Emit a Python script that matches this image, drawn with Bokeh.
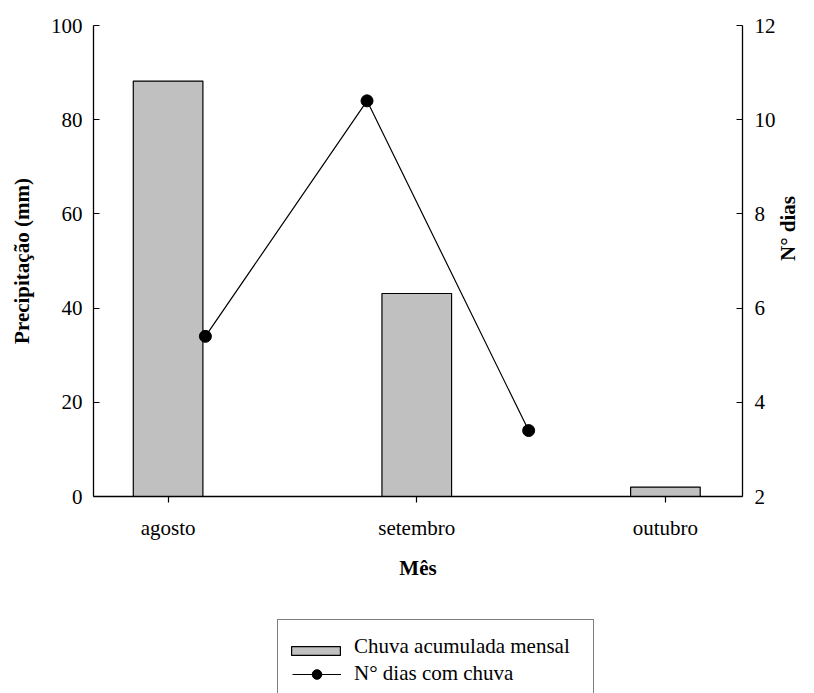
import math
from bokeh.plotting import figure
from bokeh.layouts import column
from bokeh.models import (Range1d, LinearAxis, FixedTicker, Legend, LegendItem,
                          ColumnDataSource)
from bokeh.embed import file_html
from bokeh.resources import INLINE

# monthly rainfall (bars) and number of rainy days (line)
meses = ["agosto", "setembro", "outubro"]
mes_pos = [0, 1, 2]
chuva_mm = [88.2, 43.1, 2.0]
dias_pos = [0.15, 0.80, 1.45]
dias_chuva = [5.4, 10.4, 3.4]
ticks_mm = [0, 20, 40, 60, 80, 100]
ticks_dias = [2, 4, 6, 8, 10, 12]

FONT = "Liberation Serif"
FS = "21px"
BAR_FILL = "#c0c0c0"

bars = ColumnDataSource(dict(x=mes_pos, top=chuva_mm))
dias = ColumnDataSource(dict(x=dias_pos, y=dias_chuva))

p = figure(width=814, height=600,
           x_range=Range1d(-0.30, 2.31), y_range=Range1d(0, 100),
           output_backend="svg", toolbar_location=None,
           min_border_left=93, min_border_right=70,
           min_border_top=25, min_border_bottom=104)
p.outline_line_color = None
p.grid.visible = False
p.background_fill_color = "white"
p.border_fill_color = "white"
p.extra_y_ranges = {"dias": Range1d(2, 12)}

p.vbar(x="x", top="top", width=0.28, bottom=0, source=bars,
       fill_color=BAR_FILL, line_color="black", line_width=1.2)
p.line(x="x", y="y", source=dias, y_range_name="dias",
       line_color="black", line_width=1.2)
p.scatter(x="x", y="y", source=dias, y_range_name="dias",
          marker="circle", size=12, fill_color="black", line_color="black")


def style_axis(ax):
    ax.axis_line_color = "black"
    ax.axis_line_width = 1.3
    ax.major_tick_line_color = "black"
    ax.major_tick_line_width = 1.2
    ax.minor_tick_line_color = None
    ax.major_label_text_font = FONT
    ax.major_label_text_font_size = FS
    ax.major_label_text_color = "black"
    ax.axis_label_text_font = FONT
    ax.axis_label_text_font_size = FS
    ax.axis_label_text_font_style = "bold"
    ax.axis_label_text_color = "black"


# left axis: precipitation
yl = p.yaxis[0]
style_axis(yl)
yl.ticker = FixedTicker(ticks=ticks_mm)
yl.major_tick_in = 6
yl.major_tick_out = 0
yl.major_label_standoff = 11
yl.axis_label = "Precipitação (mm)"
yl.axis_label_standoff = 14

# right axis: rainy days (numbers only)
yr = LinearAxis(y_range_name="dias", ticker=FixedTicker(ticks=ticks_dias))
style_axis(yr)
yr.major_tick_in = 6
yr.major_tick_out = 0
yr.major_label_standoff = 12
p.add_layout(yr, "right")

# outer right axis carrying only the title, reading bottom to top
yt = LinearAxis(y_range_name="dias", ticker=FixedTicker(ticks=[]),
                axis_label="N° dias")
style_axis(yt)
yt.axis_line_color = None
yt.major_tick_line_color = None
yt.major_tick_in = 0
yt.major_tick_out = 0
yt.major_label_standoff = 0
yt.axis_label_standoff = 9
yt.axis_label_orientation = math.pi / 2
p.add_layout(yt, "right")

# bottom axis: months
xb = p.xaxis[0]
style_axis(xb)
xb.ticker = FixedTicker(ticks=mes_pos)
xb.major_label_overrides = {i: m for i, m in zip(mes_pos, meses)}
xb.major_tick_in = 0
xb.major_tick_out = 6
xb.major_label_standoff = 13
xb.axis_label = "Mês"
xb.axis_label_standoff = 13

# legend strip below the chart; key glyphs are hidden and only feed the legend
leg = figure(width=814, height=93, x_range=Range1d(0, 1), y_range=Range1d(0, 1),
             output_backend="svg", toolbar_location=None,
             min_border_left=0, min_border_right=0,
             min_border_top=0, min_border_bottom=0)
leg.axis.visible = False
leg.grid.visible = False
leg.outline_line_color = None
leg.background_fill_color = "white"
leg.border_fill_color = "white"
offscreen = ColumnDataSource(dict(x=[5], y=[5], top=[5]))
k_slot = leg.vbar(x="x", top="top", width=0.1, source=offscreen,
                  fill_alpha=0, line_alpha=0)
k_bar = leg.vbar(x="x", top="top", width=0.1, source=offscreen,
                 fill_color=BAR_FILL, line_color="black", line_width=1.2)
k_line = leg.line(x="x", y="y", source=offscreen, line_color="black", line_width=1.2)
k_pts = leg.scatter(x="x", y="y", source=offscreen, marker="circle", size=12,
                    fill_color="black", line_color="black")
for r in (k_slot, k_bar, k_line, k_pts):
    r.visible = False

legend = Legend(items=[
    LegendItem(label="Chuva acumulada mensal", renderers=[k_slot]),
    LegendItem(label="N° dias com chuva", renderers=[k_line, k_pts]),
])
legend.location = (184, -8)
legend.click_policy = "none"
legend.label_text_font = FONT
legend.label_text_font_size = FS
legend.label_text_color = "black"
legend.label_width = 225
legend.border_line_color = "black"
legend.border_line_width = 1
legend.background_fill_color = "white"
legend.background_fill_alpha = 1
legend.glyph_width = 49
legend.glyph_height = 24
legend.label_standoff = 13
legend.padding = 14
legend.spacing = 2
leg.add_layout(legend)

# flat swatch for the bar series, laid over the first legend row
swatch = Legend(items=[LegendItem(label=" ", renderers=[k_bar])])
swatch.location = (192, 37)
swatch.click_policy = "none"
swatch.label_text_font_size = "8px"
swatch.label_height = 11
swatch.label_standoff = 0
swatch.glyph_width = 61
swatch.glyph_height = 11
swatch.padding = 0
swatch.spacing = 0
swatch.border_line_color = None
swatch.background_fill_alpha = 0
leg.add_layout(swatch)

open("out.html", "w").write(file_html(column(p, leg, spacing=0), INLINE))
